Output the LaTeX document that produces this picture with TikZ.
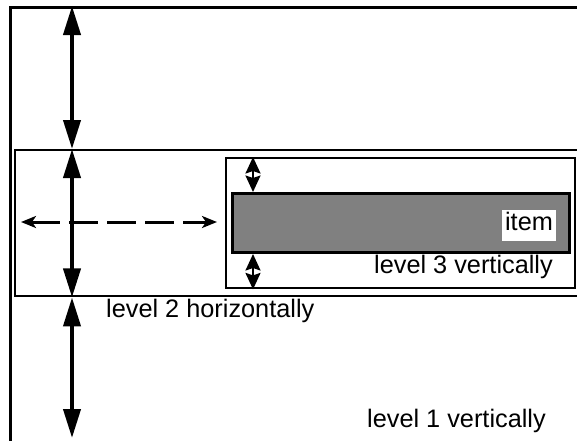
\documentclass[tikz,border=0pt]{standalone}
\usepackage{fontspec}
\setmainfont{Liberation Sans}
\usetikzlibrary{arrows.meta}
\begin{document}
\begin{tikzpicture}[x=1pt,y=-1pt,
  frame/.style={draw=black,line width=2.4pt,inner sep=0pt,anchor=north west},
  bigarr/.style={line width=4pt,>={Triangle[length=29pt,width=17pt]},<->},
  smallarr/.style={line width=2pt,>={Stealth[length=16.5pt,width=15pt,inset=2.5pt]},<->},
  dasharr/.style={line width=3pt,>={Stealth[length=15pt,width=12pt,inset=4pt]},<->,dash pattern=on 29pt off 9pt},
  lbl/.style={font=\fontsize{25.3}{30}\selectfont,inner sep=0pt,anchor=base west}
]
\useasboundingbox (0,0) rectangle (577,440);
\clip (0,0) rectangle (577,440);
\fill[white] (0,0) rectangle (577,440);
% frames
\node[frame,line width=2.8pt,minimum width=591pt,minimum height=454pt] (L1) at (9,6) {};
\node[frame,minimum width=586pt,minimum height=146pt] (L2) at (14,149) {};
\node[frame,minimum width=349pt,minimum height=130pt] (L3) at (225,157) {};
\node[frame,line width=3pt,fill=black!50,minimum width=337pt,minimum height=59pt] (IT) at (231,192) {};
% item label
\node[fill=white,inner sep=0pt,text height=20pt,text depth=11pt,minimum width=54pt,anchor=base,font=\fontsize{25.3}{30}\selectfont] (item) at (529,230) {item};
% coordinates
\coordinate (ax) at (72,0);
\coordinate (sx) at (253,0);
\coordinate (bot) at (72,438);
\coordinate (dl) at (21,222);
\coordinate (dr) at (217,222);
% dashed horizontal arrow
\draw[dasharr] (dl) -- (dr);
% big vertical arrows
\draw[bigarr] (ax |- L1.north) -- (ax |- L2.north);
\draw[bigarr] (ax |- L2.north) -- (ax |- L2.south);
\draw[bigarr] (ax |- L2.south) -- (bot);
% small arrows
\draw[smallarr] (sx |- L3.north) -- (sx |- IT.north);
\draw[smallarr] (sx |- IT.south) -- (sx |- L3.south);
% labels
\node[lbl] (t3) at (374,273) {level 3 vertically};
\node[lbl] (t2) at (106,317) {level 2 horizontally};
\node[lbl] (t1) at (367,427) {level 1 vertically};
\end{tikzpicture}
\end{document}
